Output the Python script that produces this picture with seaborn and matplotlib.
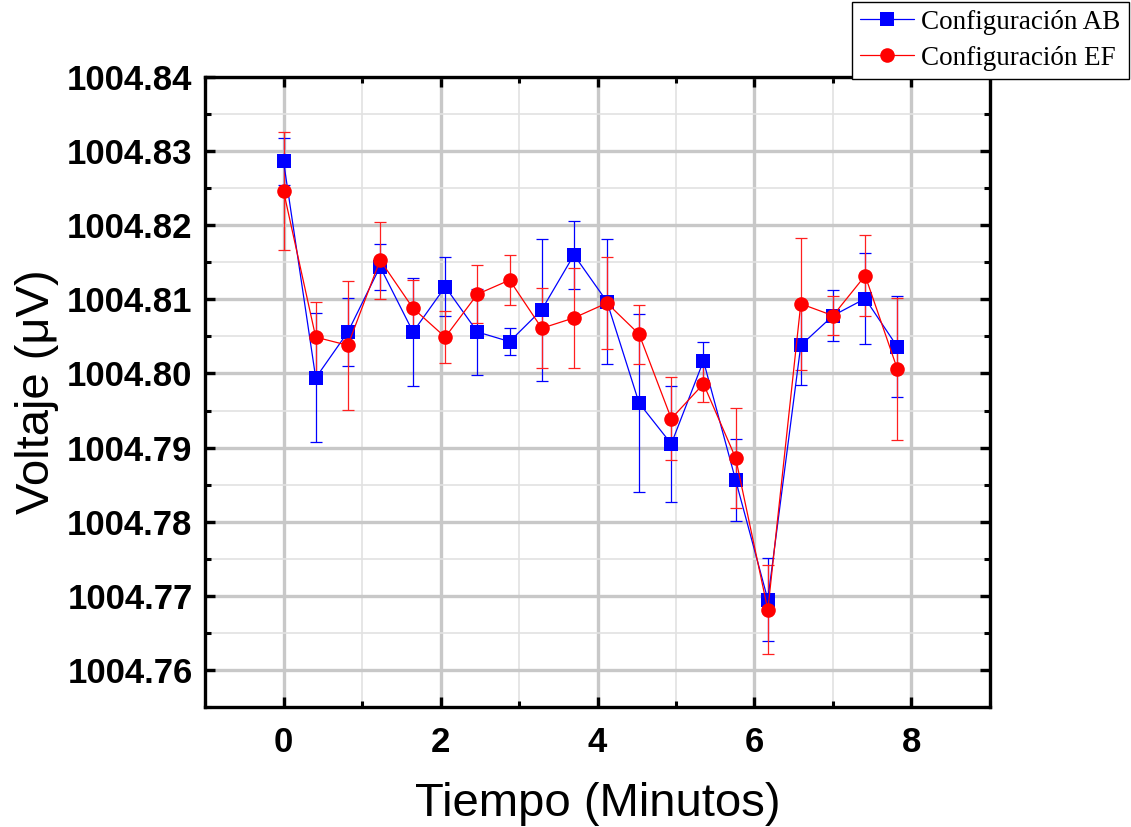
import matplotlib
matplotlib.use("Agg")
import matplotlib.pyplot as plt
from matplotlib.ticker import AutoMinorLocator, MultipleLocator, FormatStrFormatter
import seaborn as sns
import pandas as pd
import numpy as np

# tiempo (minutos)
tiempo = [0.00, 0.41, 0.82, 1.23, 1.65, 2.06, 2.47, 2.88, 3.29, 3.70,
          4.12, 4.53, 4.94, 5.35, 5.76, 6.17, 6.59, 7.00, 7.41, 7.82]

# Configuracion AB
volt_ab = [1004.8286, 1004.7994, 1004.8056, 1004.8144, 1004.8056, 1004.8117,
           1004.8056, 1004.8043, 1004.8086, 1004.8160, 1004.8097, 1004.7960,
           1004.7905, 1004.8017, 1004.7856, 1004.7695, 1004.8038, 1004.8078,
           1004.8101, 1004.8036]
err_ab = [0.0032, 0.0087, 0.0046, 0.0031, 0.0073, 0.0040, 0.0058, 0.0018,
          0.0096, 0.0046, 0.0084, 0.0120, 0.0078, 0.0026, 0.0055, 0.0056,
          0.0053, 0.0034, 0.0061, 0.0068]

# Configuracion EF
volt_ef = [1004.8246, 1004.8049, 1004.8038, 1004.8153, 1004.8088, 1004.8049,
           1004.8107, 1004.8126, 1004.8061, 1004.8075, 1004.8095, 1004.8053,
           1004.7939, 1004.7986, 1004.7886, 1004.7681, 1004.8094, 1004.8078,
           1004.8132, 1004.8006]
err_ef = [0.0080, 0.0048, 0.0087, 0.0052, 0.0038, 0.0035, 0.0039, 0.0034,
          0.0054, 0.0067, 0.0062, 0.0040, 0.0056, 0.0025, 0.0068, 0.0060,
          0.0089, 0.0026, 0.0055, 0.0096]

df = pd.concat([
    pd.DataFrame({"t": tiempo, "v": volt_ab, "serie": "Configuración AB"}),
    pd.DataFrame({"t": tiempo, "v": volt_ef, "serie": "Configuración EF"}),
])

sns.set_style("ticks")
plt.rcParams['font.family'] = ['Liberation Sans', 'DejaVu Sans']
plt.rcParams['text.color'] = 'black'
plt.rcParams['axes.labelcolor'] = 'black'
plt.rcParams['xtick.color'] = 'black'
plt.rcParams['ytick.color'] = 'black'

fig = plt.figure(figsize=(11.31, 8.27), dpi=100)
ax = fig.add_axes([0.1813, 0.1451, 0.6940, 0.7618])

colores = {"Configuración AB": "#0000ff", "Configuración EF": "#ff0000"}
sns.lineplot(data=df, x="t", y="v", hue="serie", style="serie",
             markers={"Configuración AB": "s", "Configuración EF": "o"},
             dashes=False, palette=colores, linewidth=0.9,
             markeredgewidth=0, ax=ax, legend=False, zorder=4)
# tamaños de marcador
for ln, ms in zip(ax.get_lines()[:2], [9.5, 10.5]):
    ln.set_markersize(ms)

ax.errorbar(tiempo, volt_ab, yerr=err_ab, fmt='none', ecolor="#0000ff",
            elinewidth=0.9, capsize=4.5, capthick=0.9, zorder=3)
ax.errorbar(tiempo, volt_ef, yerr=err_ef, fmt='none', ecolor="#ff2020",
            elinewidth=0.9, capsize=4.5, capthick=0.9, zorder=3)

ax.set_xlim(-1, 9)
ax.set_ylim(1004.755, 1004.84)
ax.xaxis.set_major_locator(MultipleLocator(2))
ax.xaxis.set_minor_locator(AutoMinorLocator(2))
ax.yaxis.set_major_locator(MultipleLocator(0.01))
ax.yaxis.set_minor_locator(AutoMinorLocator(2))
ax.yaxis.set_major_formatter(FormatStrFormatter('%.2f'))

ax.grid(which='major', color='#c8c8c8', linewidth=2.4, zorder=0)
ax.grid(which='minor', color='#e2e2e2', linewidth=1.2, zorder=0)
ax.set_axisbelow(True)

for s in ax.spines.values():
    s.set_visible(True)
    s.set_linewidth(2.4)
    s.set_color('black')
ax.tick_params(which='major', direction='in', length=7, width=2.4,
               top=True, right=True, colors='black')
ax.tick_params(which='minor', direction='in', length=4, width=2.2,
               top=True, right=True, colors='black')
ax.tick_params(axis='y', which='major', pad=9)
ax.tick_params(axis='x', which='major', pad=14)
for lab in ax.get_yticklabels():
    lab.set_fontsize(25)
    lab.set_fontweight('bold')
for lab in ax.get_xticklabels():
    lab.set_fontsize(25)
    lab.set_fontweight('bold')

ax.set_xlabel("Tiempo (Minutos)", fontsize=34, labelpad=16, color='black')
ax.set_ylabel("Voltaje (μV)", fontsize=34, labelpad=6, color='black')

h = ax.get_lines()[:2]
leg = fig.legend(h, ["Configuración AB", "Configuración EF"],
                 loc='upper right', bbox_to_anchor=(0.998, 0.998),
                 prop={'family': 'Liberation Serif', 'size': 19.5},
                 fancybox=False, edgecolor='black', framealpha=1,
                 borderpad=0.3, handlelength=2.0, handletextpad=0.25,
                 labelspacing=0.4, borderaxespad=0)
leg.get_frame().set_linewidth(1.0)
for t in leg.get_texts():
    t.set_color('black')

fig.savefig("out.png", dpi=100)
